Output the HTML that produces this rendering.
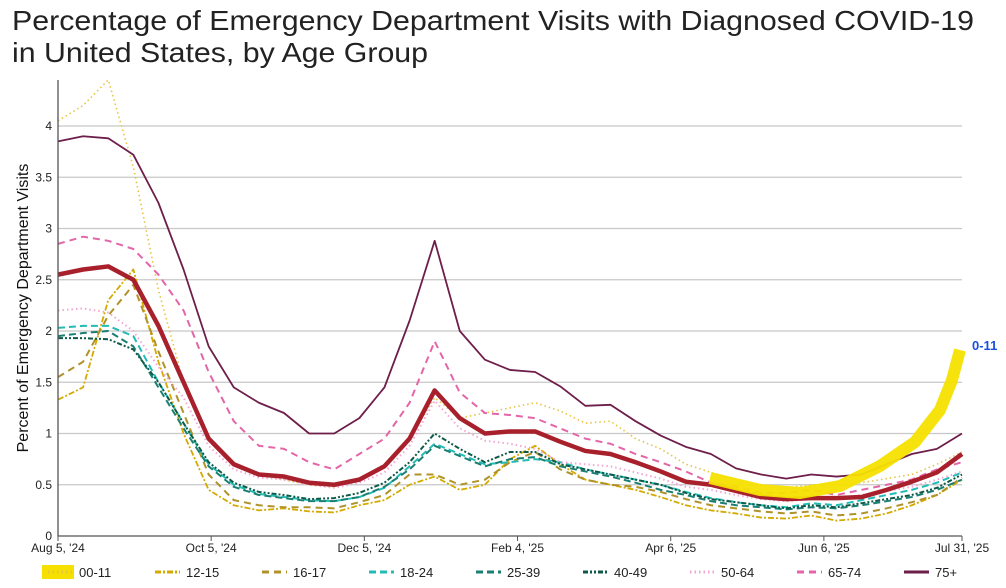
<!DOCTYPE html>
<html><head><meta charset="utf-8"><style>
body{margin:0;background:#fff;}
svg{display:block;font-family:"Liberation Sans",sans-serif;}
</style></head><body>
<svg id="chart" width="1006" height="588" viewBox="0 0 1006 588">
<text x="12" y="30" font-size="28" fill="#222" textLength="962" lengthAdjust="spacingAndGlyphs">Percentage of Emergency Department Visits with Diagnosed COVID-19</text>
<text x="12" y="62" font-size="28" fill="#222" textLength="416" lengthAdjust="spacingAndGlyphs">in United States, by Age Group</text>
<text transform="translate(28,308) rotate(-90)" text-anchor="middle" font-size="16" fill="#111">Percent of Emergency Department Visits</text>
<g id="grid"></g><g id="series"></g><g id="axes"></g><g id="legend"></g>
<polyline points="710,478 760,490 800,493 840,486 880,466 915,442 940,410 952,380 960,350" fill="none" stroke="#f5e000" stroke-width="12" stroke-linecap="butt" stroke-linejoin="round" opacity="0.95"/>
<text x="972" y="350" font-size="13" font-weight="bold" fill="#1a4fe0">0-11</text>
</svg>
<script>
const days=[0,10,20,30,40,50,60,70,80,90,100,110,120,130,140,150,160,170,180,190,200,210,220,230,240,250,260,270,280,290,300,310,320,330,340,350,360];
const yTicks=[0,0.5,1,1.5,2,2.5,3,3.5,4];
const yTickLabels=["0","0.5","1","1.5","2","2.5","3","3.5","4"];
const xTickDays=[0,61,122,183,244,305,360];
const xTickLabels=["Aug 5, '24","Oct 5, '24","Dec 5, '24","Feb 4, '25","Apr 6, '25","Jun 6, '25","Jul 31, '25"];
const seriesNames=["00-11","12-15","16-17","18-24","25-39","40-49","50-64","65-74","75+"];
const s0011=[4.05,4.2,4.45,3.6,2.4,1.5,0.95,0.7,0.6,0.55,0.5,0.48,0.55,0.7,0.95,1.35,1.15,1.2,1.25,1.3,1.22,1.1,1.12,0.95,0.85,0.7,0.62,0.55,0.5,0.47,0.5,0.5,0.52,0.56,0.6,0.7,0.82];
const s1215=[1.33,1.45,2.3,2.6,1.7,1.0,0.45,0.3,0.25,0.27,0.24,0.23,0.3,0.35,0.5,0.58,0.45,0.5,0.75,0.88,0.7,0.55,0.5,0.45,0.38,0.3,0.25,0.22,0.18,0.17,0.2,0.15,0.17,0.22,0.3,0.4,0.55];
const s1617=[1.55,1.7,2.15,2.45,1.8,1.2,0.6,0.35,0.3,0.28,0.28,0.27,0.33,0.4,0.6,0.6,0.5,0.55,0.72,0.82,0.65,0.55,0.5,0.48,0.43,0.36,0.3,0.27,0.24,0.22,0.24,0.2,0.22,0.27,0.33,0.4,0.57];
const s1824=[2.03,2.05,2.05,1.95,1.5,1.1,0.7,0.5,0.41,0.38,0.35,0.34,0.38,0.47,0.68,0.9,0.8,0.7,0.72,0.75,0.72,0.65,0.6,0.55,0.5,0.43,0.37,0.33,0.3,0.28,0.32,0.3,0.35,0.4,0.45,0.52,0.62];
const s2539=[1.95,1.98,2.0,1.85,1.45,1.05,0.68,0.48,0.4,0.37,0.34,0.34,0.38,0.48,0.65,0.88,0.78,0.68,0.75,0.77,0.68,0.63,0.58,0.52,0.45,0.4,0.34,0.3,0.28,0.26,0.28,0.27,0.3,0.34,0.38,0.45,0.55];
const s4049=[1.93,1.93,1.92,1.82,1.5,1.1,0.72,0.52,0.43,0.4,0.36,0.37,0.42,0.52,0.72,1.0,0.85,0.72,0.82,0.82,0.7,0.65,0.6,0.55,0.5,0.42,0.36,0.33,0.3,0.27,0.3,0.28,0.32,0.36,0.4,0.47,0.6];
const s5064=[2.2,2.22,2.18,2.0,1.65,1.35,0.88,0.65,0.57,0.55,0.5,0.47,0.52,0.62,0.88,1.32,1.05,0.93,0.9,0.85,0.72,0.7,0.68,0.62,0.56,0.48,0.45,0.4,0.36,0.34,0.36,0.36,0.4,0.44,0.48,0.55,0.63];
const s6574=[2.85,2.92,2.88,2.8,2.55,2.2,1.6,1.12,0.88,0.85,0.72,0.65,0.8,0.95,1.3,1.9,1.4,1.2,1.18,1.15,1.05,0.95,0.9,0.8,0.72,0.63,0.52,0.48,0.42,0.42,0.45,0.4,0.45,0.5,0.55,0.65,0.72];
const s75=[3.85,3.9,3.88,3.72,3.25,2.6,1.85,1.45,1.3,1.2,1.0,1.0,1.15,1.45,2.1,2.88,2.0,1.72,1.62,1.6,1.46,1.27,1.28,1.12,0.98,0.87,0.8,0.66,0.6,0.56,0.6,0.58,0.6,0.7,0.8,0.85,1.0];
const sAll=[2.55,2.6,2.63,2.5,2.05,1.5,0.95,0.7,0.6,0.58,0.52,0.5,0.55,0.68,0.95,1.42,1.15,1.0,1.02,1.02,0.92,0.83,0.8,0.72,0.63,0.53,0.5,0.44,0.38,0.36,0.37,0.37,0.38,0.45,0.53,0.62,0.8];

const NS="http://www.w3.org/2000/svg";
const X0=58,X1=962,Y0=536,PX=102.5;
const xs=d=>X0+(X1-X0)*d/360;
const ys=v=>Y0-v*PX;
function mk(tag,parent){const e=document.createElementNS(NS,tag);document.getElementById(parent).appendChild(e);return e;}
yTicks.forEach((t,i)=>{
  if(t>0){const l=mk('line','grid');l.setAttribute('x1',X0);l.setAttribute('x2',X1);l.setAttribute('y1',ys(t));l.setAttribute('y2',ys(t));l.setAttribute('stroke','#c8c8c8');l.setAttribute('stroke-width','1.3');
  
  }
  const tx=mk('text','axes');tx.setAttribute('x',X0-6);tx.setAttribute('y',ys(t)+4);tx.setAttribute('text-anchor','end');tx.setAttribute('font-size','12');tx.setAttribute('fill','#222');tx.textContent=yTickLabels[i];
  
  
});
const ax=mk('path','axes');ax.setAttribute('d',`M${X0} 80V${Y0}H${X1}`);ax.setAttribute('stroke','#555');ax.setAttribute('fill','none');ax.setAttribute('stroke-width','1.3');


xTickDays.forEach((d,i)=>{
  const l=mk('line','axes');l.setAttribute('x1',xs(d));l.setAttribute('x2',xs(d));l.setAttribute('y1',Y0);l.setAttribute('y2',Y0+5);l.setAttribute('stroke','#555');
  
  
  const tx=mk('text','axes');tx.setAttribute('x',xs(d));tx.setAttribute('y',552);tx.setAttribute('text-anchor','middle');tx.setAttribute('font-size','12');tx.setAttribute('fill','#222');tx.textContent=xTickLabels[i];
  
  
});
const styles=[
 [s0011,'#e8c440',1.6,'1.5 3'],
 [s1215,'#d4aa00',1.8,'6 2 2 2'],
 [s1617,'#b0922a',2,'7 5'],
 [s1824,'#22bbb5',2,'7 4'],
 [s2539,'#1a7f72',2,'7 4'],
 [s4049,'#0d5a48',2,'5 2 2 2 2 2'],
 [s5064,'#f2a6d6',2,'1.5 3'],
 [s6574,'#e465a8',2,'7 5'],
 [s75,'#6e1e4a',1.8,''],
];
const names=['series-00-11','series-12-15','series-16-17','series-18-24','series-25-39','series-40-49','series-50-64','series-65-74','series-75-plus'];
styles.forEach((s,i)=>{
  const p=mk('polyline','series');p.setAttribute('points',s[0].map((v,j)=>xs(days[j])+','+ys(v)).join(' '));
  p.setAttribute('fill','none');p.setAttribute('stroke',s[1]);p.setAttribute('stroke-width',s[2]);if(s[3])p.setAttribute('stroke-dasharray',s[3]);p.setAttribute('stroke-linejoin','round');
  
  
});
const allLine=mk('polyline','series');allLine.setAttribute('points',sAll.map((v,j)=>xs(days[j])+','+ys(v)).join(' '));
allLine.setAttribute('fill','none');allLine.setAttribute('stroke','#a8202c');allLine.setAttribute('stroke-width','4.5');allLine.setAttribute('stroke-linejoin','round');


seriesNames.forEach((n,i)=>{
  const x=48+i*107;
  if(i===0){const h=mk('rect','legend');h.setAttribute('x',42);h.setAttribute('y',565);h.setAttribute('width',32);h.setAttribute('height',14);h.setAttribute('fill','#f5e000');
  
  }
  const l=mk('line','legend');l.setAttribute('x1',x);l.setAttribute('x2',x+25);l.setAttribute('y1',572);l.setAttribute('y2',572);l.setAttribute('stroke',styles[i][1]);l.setAttribute('stroke-width',3);if(styles[i][3])l.setAttribute('stroke-dasharray',styles[i][3]);
  
  
  const tx=mk('text','legend');tx.setAttribute('x',x+31);tx.setAttribute('y',577);tx.setAttribute('font-size','13');tx.setAttribute('fill','#222');tx.textContent=n;
  
  
});
</script>
</body></html>
